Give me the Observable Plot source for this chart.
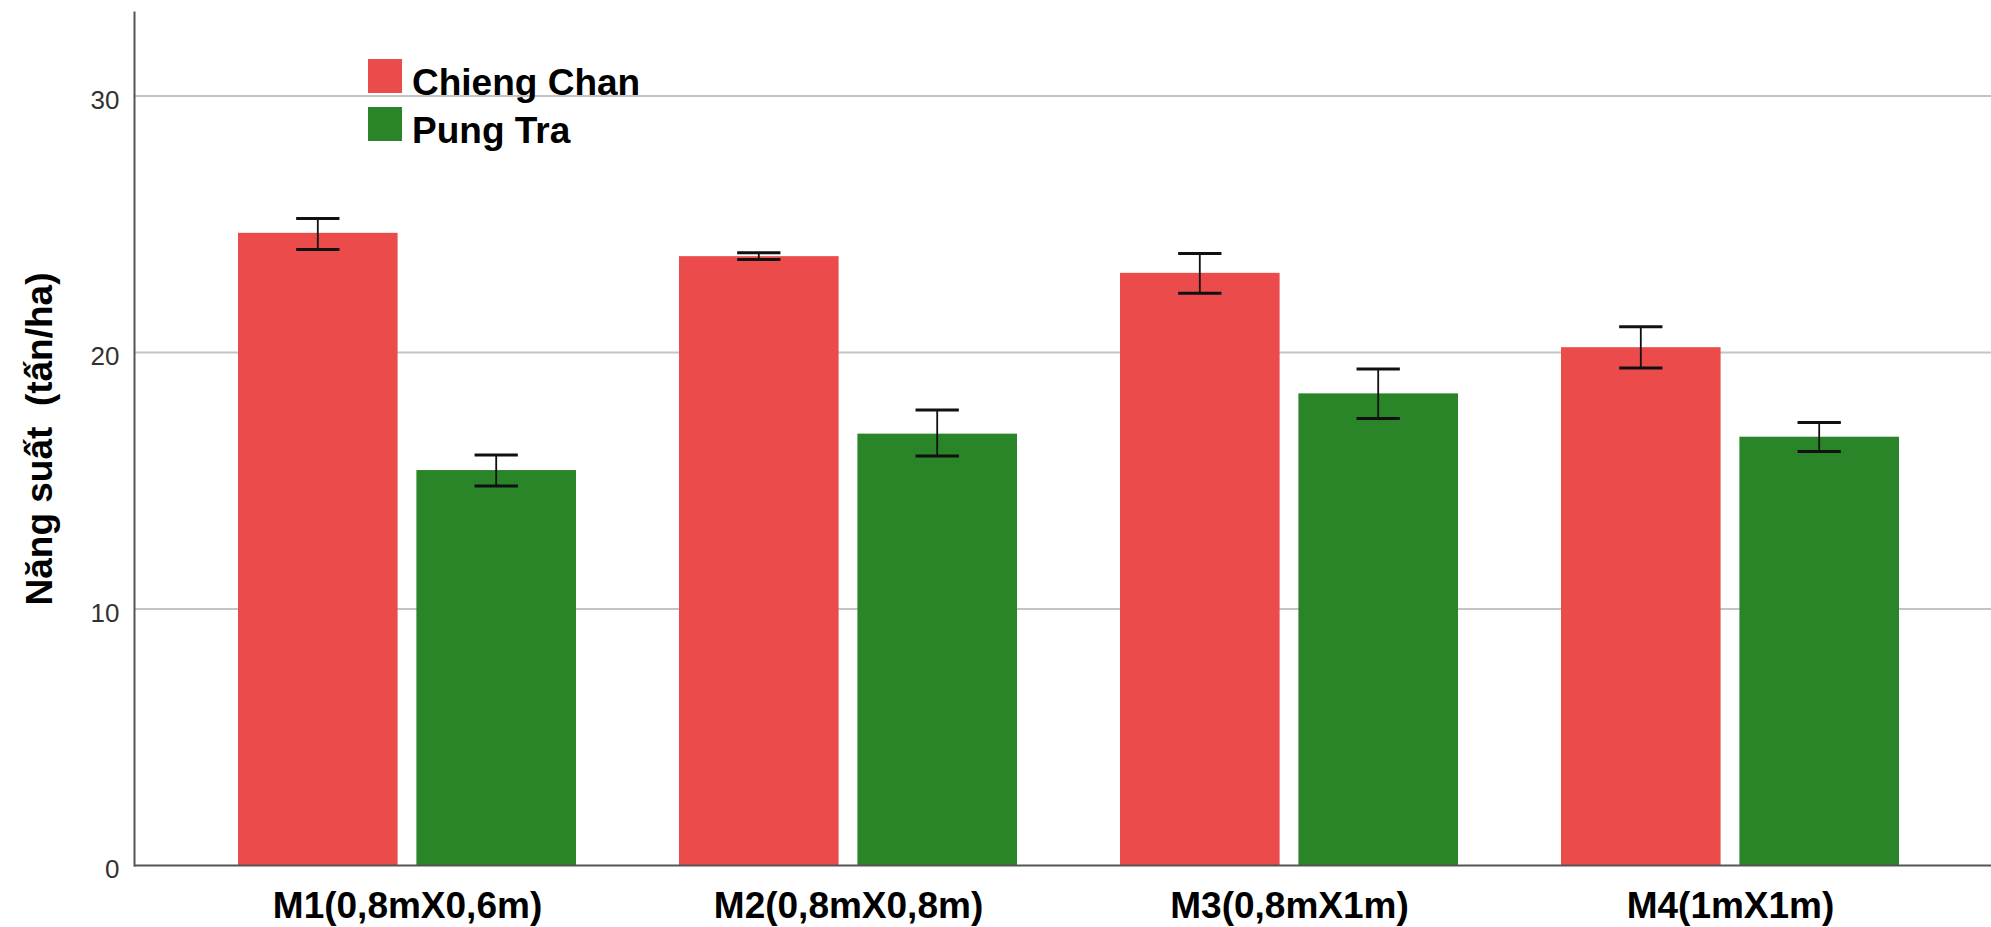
<!DOCTYPE html>
<html>
<head>
<meta charset="utf-8">
<script src="https://cdn.jsdelivr.net/npm/d3@7"></script>
<script src="https://cdn.jsdelivr.net/npm/@observablehq/plot@0.6"></script>
<style>
  body { margin: 0; background: #fff; font-family: "Liberation Sans", Arial, sans-serif; }
  #wrap { position: relative; width: 1991px; height: 927px; }
  #legend { position: absolute; left: 368px; top: 59px; }
  .item { position: absolute; left: 0; width: 400px; height: 48px; }
  .sw { position: absolute; left: 0; top: 0; width: 34px; height: 34px; }
  .lbl { position: absolute; left: 44px; top: 4.5px; font-size: 37px; line-height: 37px; font-weight: bold; color: #000; white-space: nowrap; }
</style>
</head>
<body>
<div id="wrap"><div id="chart"></div><div id="legend"></div></div>
<script>
// ---- data ----
const categories = ["M1(0,8mX0,6m)", "M2(0,8mX0,8m)", "M3(0,8mX1m)", "M4(1mX1m)"];
const seriesNames = ["Chieng Chan", "Pung Tra"];
const chiengChan     = [24.65, 23.74, 23.09, 20.19];
const chiengChanLow  = [24.02, 23.63, 22.31, 19.40];
const chiengChanHigh = [25.23, 23.89, 23.86, 21.01];
const pungTra        = [15.40, 16.82, 18.39, 16.70];
const pungTraLow     = [14.80, 15.97, 17.43, 16.14];
const pungTraHigh    = [16.01, 17.76, 19.36, 17.27];
const yTicks = [0, 10, 20, 30];
const yLabel = "Năng suất  (tấn/ha)";
const colors = ["#EC4B4B", "#2A8529"];

// ---- layout ----
const W = 1991, H = 927;
const BW = 338.7;          // group band width
const BAR = 160.3;         // bar width
const CAP = 44;            // error cap width
const ERRW = 2.5;          // error line width
const c1 = BAR / 2, c2 = BW - BAR / 2;

const ccRows = categories.map((c, i) => ({category: c, value: chiengChan[i], low: chiengChanLow[i], high: chiengChanHigh[i]}));
const ptRows = categories.map((c, i) => ({category: c, value: pungTra[i], low: pungTraLow[i], high: pungTraHigh[i]}));

function errMarks(rows, center) {
  return [
    Plot.barY(rows, {x: "category", y1: "low", y2: "high", fill: "#111",
      insetLeft: center - ERRW / 2, insetRight: BW - center - ERRW / 2}),
    Plot.tickY(rows, {x: "category", y: "low", stroke: "#111", strokeWidth: 3,
      insetLeft: center - CAP / 2, insetRight: BW - center - CAP / 2}),
    Plot.tickY(rows, {x: "category", y: "high", stroke: "#111", strokeWidth: 3,
      insetLeft: center - CAP / 2, insetRight: BW - center - CAP / 2})
  ];
}

const chart = Plot.plot({
  width: W,
  height: H,
  marginLeft: 134,
  marginRight: 0,
  marginTop: 12,
  marginBottom: 62,
  style: {fontFamily: "'Liberation Sans', Arial, sans-serif", background: "#fff"},
  x: {domain: categories, paddingInner: 0.2335, paddingOuter: 0.2179, align: 0.531, axis: null},
  y: {domain: [0, 33.26], axis: null},
  marks: [
    Plot.ruleY(yTicks.filter(d => d > 0), {stroke: "#c4c4c4", strokeWidth: 2}),
    Plot.barY(ccRows, {x: "category", y: "value", fill: colors[0], insetRight: BW - BAR}),
    Plot.barY(ptRows, {x: "category", y: "value", fill: colors[1], insetLeft: BW - BAR}),
    ...errMarks(ccRows, c1),
    ...errMarks(ptRows, c2),
    Plot.ruleY([0], {stroke: "#555", strokeWidth: 2}),
    Plot.frame({anchor: "left", stroke: "#555", strokeWidth: 2}),
    Plot.axisX({tickSize: 0, tickPadding: 26, fontSize: 37, fontWeight: "bold", fill: "#000", label: null}),
    Plot.axisY(yTicks, {tickSize: 0, tickPadding: 15, fontSize: 26, fill: "#333", dy: 4.5, label: null}),
    Plot.axisY([], {label: yLabel, labelArrow: "none", labelAnchor: "center", labelOffset: 109, fontSize: 37, fontWeight: "bold", fill: "#000"})
  ]
});
document.getElementById("chart").appendChild(chart);

// ---- legend ----
const legend = document.getElementById("legend");
seriesNames.forEach((name, i) => {
  const item = document.createElement("div");
  item.className = "item";
  item.style.top = (i * 48.4) + "px";
  const sw = document.createElement("div");
  sw.className = "sw";
  sw.style.background = colors[i];
  const lb = document.createElement("div");
  lb.className = "lbl";
  lb.textContent = name;
  item.appendChild(sw);
  item.appendChild(lb);
  legend.appendChild(item);
});
</script>
</body>
</html>
